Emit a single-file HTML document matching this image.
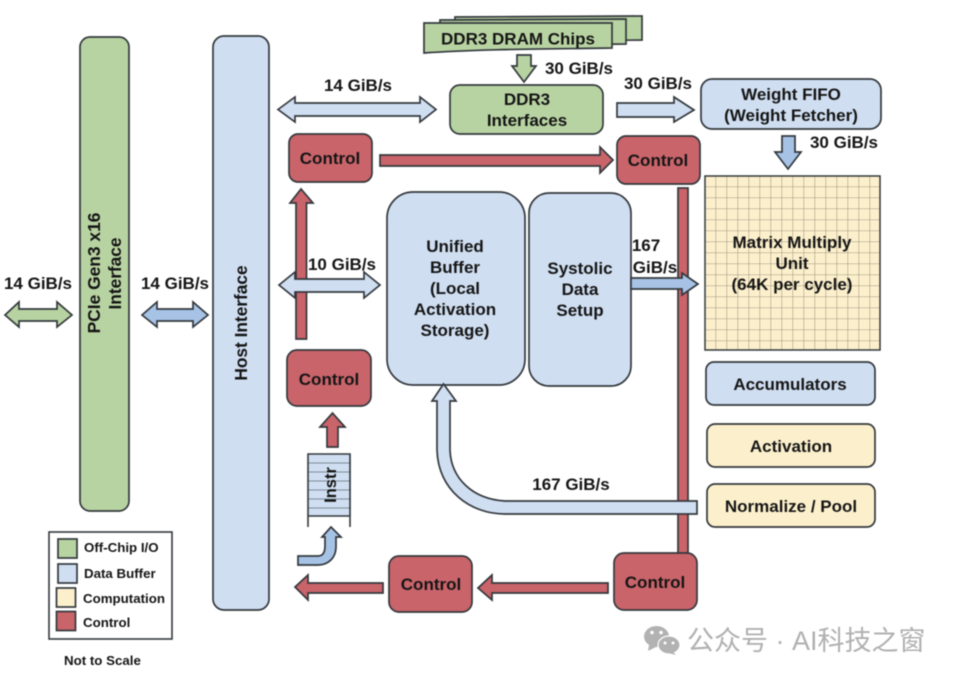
<!DOCTYPE html>
<html><head><meta charset="utf-8"><style>
html,body{margin:0;padding:0;background:#fff;width:956px;height:679px;overflow:hidden}
svg{display:block;filter:blur(.4px)}
text{font-family:"Liberation Sans","Noto Sans CJK SC",sans-serif;font-weight:bold;fill:#151515;font-size:17px;text-anchor:middle}
.s{stroke:#33383d;stroke-width:1.7}
.g{fill:#b8d3a2}.b{fill:#cfdef1}.y{fill:#fcf0cc}.r{fill:#c9646a}.m{fill:#a6c3e6}
.l{font-size:13.3px;text-anchor:start}
</style></head><body>
<svg width="956" height="679" viewBox="0 0 956 679" xmlns="http://www.w3.org/2000/svg">
<defs><pattern id="grid" x="704.5" y="175.5" width="11" height="11" patternUnits="userSpaceOnUse"><path d="M11 0H0V11" fill="none" stroke="#9f9680" stroke-width="1.1"/></pattern></defs>

<!-- main columns -->
<rect class="s g" x="80" y="37" width="49" height="474" rx="10"/>
<rect class="s b" x="213" y="36" width="56" height="574" rx="11"/>
<text transform="translate(100,273) rotate(-90)" style="font-size:17.4px">PCIe Gen3 x16</text>
<text transform="translate(121,273.5) rotate(-90)" style="font-size:17.3px">Interface</text>
<text transform="translate(247,323) rotate(-90)" style="font-size:17.3px">Host Interface</text>

<!-- DRAM -->
<path class="s g" d="M455 17L642 16V40L455 42Z"/>
<path class="s g" d="M440 20L626 19V44L440 46Z"/>
<path class="s g" d="M424 23L612 23V48C550 49 480 49 424 53Z"/>
<text x="518" y="44.5">DDR3 DRAM Chips</text>
<path class="s g" d="M517 55H531V66H536L524 82L512 66H517Z"/>
<text x="579" y="74">30 GiB/s</text>
<rect class="s g" x="450" y="85" width="153" height="49" rx="10"/>
<text x="527" y="105">DDR3</text><text x="527" y="126">Interfaces</text>

<text x="358" y="91">14 GiB/s</text>
<path class="s b" d="M278 109.500L295 97V103H420V97L436 109.500L420 122V116H295V122Z"/>

<text x="658" y="89">30 GiB/s</text>
<path class="s b" d="M617 103H674V97L694 110L674 122V117H617Z"/>
<rect class="s b" x="701" y="79" width="180" height="50" rx="11"/>
<text x="791" y="100">Weight FIFO</text><text x="791" y="121">(Weight Fetcher)</text>
<path class="s m" d="M782 136H795V152H801L788 169L775 152H782Z"/>
<text x="844" y="148">30 GiB/s</text>

<!-- red connectors -->
<path class="s r" d="M380 155H600V147L613 160L600 173V166H380Z"/>
<rect class="s r" x="678" y="188" width="10" height="366"/>
<path class="s r" d="M296 339V203H290L301 189L313 203H306.500V339Z"/>

<!-- controls -->
<rect class="s r" x="289" y="134" width="83" height="48" rx="9"/>
<text x="330" y="164">Control</text>
<rect class="s r" x="617" y="136" width="83" height="48" rx="9"/>
<text x="658" y="166">Control</text>
<rect class="s r" x="287" y="350" width="84" height="56" rx="10"/>
<text x="329" y="385">Control</text>

<!-- 10 GiB/s -->
<text x="342" y="270">10 GiB/s</text>
<path class="s b" d="M279 285L295 272V279H364V272L380 285L364 298V292H295V298Z"/>

<!-- left -->
<text x="38" y="289">14 GiB/s</text>
<path class="s g" d="M5 315L19 302V309H57V302L72 315L57 327V321H19V327Z"/>
<text x="175" y="289">14 GiB/s</text>
<path class="s m" d="M142 315L157 302V309H193V302L208 315L193 327V321H157V327Z"/>

<!-- buffers -->
<rect class="s b" x="387" y="192" width="138" height="193" rx="26"/>
<rect class="s b" x="529" y="193" width="102" height="193" rx="20"/>
<text x="455" y="252">Unified</text><text x="455" y="273">Buffer</text><text x="455" y="294">(Local</text><text x="455" y="315">Activation</text><text x="455" y="336">Storage)</text>
<text x="580" y="274">Systolic</text><text x="580" y="295">Data</text><text x="580" y="316">Setup</text>

<text x="646" y="251">167</text><text x="655" y="273">GiB/s</text>
<path class="s m" d="M631 278H682V273L698 284L682 295V289H631Z"/>

<!-- Matrix -->
<rect x="705" y="176" width="175" height="174" class="y"/>
<rect x="705" y="176" width="175" height="174" fill="url(#grid)"/>
<rect x="705" y="176" width="175" height="174" fill="none" stroke="#33383d" stroke-width="1.5"/>
<text x="792" y="248">Matrix Multiply</text><text x="792" y="269">Unit</text><text x="792" y="290">(64K per cycle)</text>

<rect class="s b" x="706" y="362" width="169" height="43" rx="8"/>
<text x="790" y="390">Accumulators</text>
<rect class="s y" x="707" y="424" width="168" height="43" rx="8"/>
<text x="791" y="452">Activation</text>
<rect class="s y" x="707" y="484" width="168" height="43" rx="8"/>
<text x="791" y="512">Normalize / Pool</text>

<!-- 167 return -->
<path class="s b" d="M697 501H505C472 499 451 478 450 450V401H456L443.500 384L432 401H437V450C438 490 470 514 505 514H697Z"/>
<text x="571" y="490">167 GiB/s</text>

<!-- instr -->
<rect class="b" x="308" y="454" width="43" height="62"/>
<path d="M308 463H351M308 472H351M308 481H351M308 490H351M308 499H351M308 508H351" stroke="#7f8a96" stroke-width="1"/>
<path d="M308 527V454H350V527M308 516H350" fill="none" stroke="#33383d" stroke-width="1.6"/>
<text transform="translate(336,485) rotate(-90)" style="font-size:16.5px">Instr</text>
<path class="s r" d="M327 447V427H320L332.500 413L345 427H338V447Z"/>
<path class="s m" d="M298 556H318C323 556 325 552 325 546V537H322L331 527L341 537H336V547C336 558 328 565 318 565H298Z"/>

<!-- bottom -->
<rect class="s r" x="389" y="556" width="83" height="56" rx="10"/>
<text x="431" y="590">Control</text>
<rect class="s r" x="614" y="553" width="83" height="57" rx="10"/>
<text x="655" y="588">Control</text>
<path class="s r" d="M383 583H308V575L295 587L308 600V593H383Z"/>
<path class="s r" d="M608 583H492V575L478 588L492 600V593H608Z"/>

<!-- legend -->
<rect x="49" y="532" width="123" height="107" fill="#fff" stroke="#33383d" stroke-width="1.6"/>
<rect class="s g" x="58" y="539" width="19" height="19"/>
<rect class="s b" x="58" y="564" width="19" height="19"/>
<rect class="s y" x="56.500" y="588" width="19" height="19"/>
<rect class="s r" x="56.500" y="611.500" width="19" height="19"/>
<text x="84" y="552" class="l">Off-Chip I/O</text>
<text x="84" y="578" class="l">Data Buffer</text>
<text x="83" y="603" class="l">Computation</text>
<text x="83" y="627" class="l">Control</text>
<text x="64" y="665" class="l">Not to Scale</text>

<!-- watermark -->
<ellipse cx="656.500" cy="636.500" rx="12.500" ry="10.500" fill="#b2b2b2"/>
<path d="M649 645L648 651L656 647Z" fill="#b2b2b2"/>
<circle cx="652" cy="632.500" r="1.800" fill="#fff"/><circle cx="661" cy="632.500" r="1.800" fill="#fff"/>
<ellipse cx="669" cy="645" rx="11" ry="9" fill="#b2b2b2" stroke="#fff" stroke-width="1.200"/>
<path d="M673 652L676 655L668 653Z" fill="#b2b2b2"/>
<circle cx="665" cy="643" r="1.500" fill="#fff"/><circle cx="673" cy="643" r="1.500" fill="#fff"/>
<text x="687" y="650" style="font-size:27px;font-weight:normal;fill:#b0b0b0;text-anchor:start">公众号 · AI科技之窗</text>
</svg>
</body></html>
